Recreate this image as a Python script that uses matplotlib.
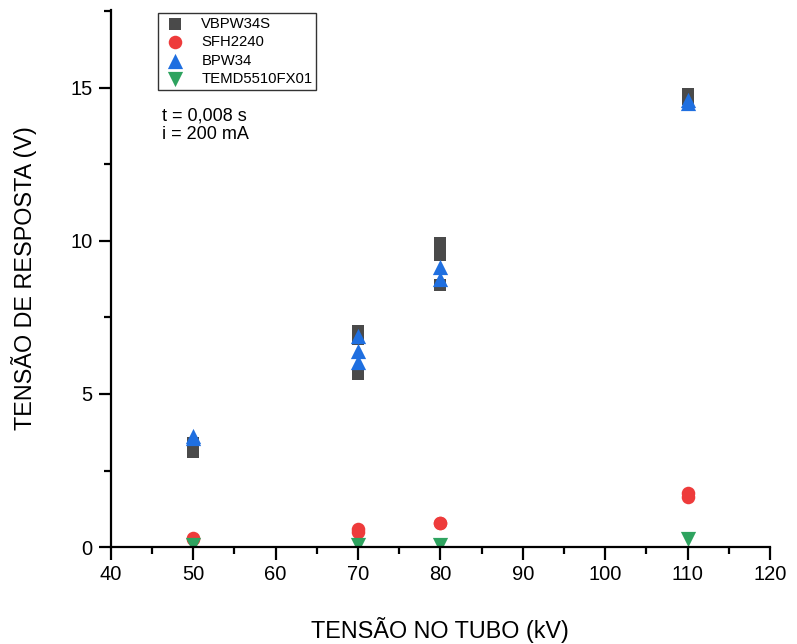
import matplotlib
matplotlib.use("Agg")
import matplotlib.pyplot as plt
from matplotlib.ticker import MultipleLocator

plt.rcParams['font.family'] = ['Liberation Sans', 'DejaVu Sans']

# Data
vbpw34s_x = [50, 50, 70, 70, 70, 80, 80, 80, 110, 110]
vbpw34s_y = [3.1, 3.4, 7.05, 6.8, 5.65, 9.93, 9.55, 8.57, 14.8, 14.65]

sfh2240_x = [50, 50, 70, 70, 80, 80, 110, 110]
sfh2240_y = [0.3, 0.25, 0.6, 0.5, 0.8, 0.78, 1.75, 1.62]

bpw34_x = [50, 50, 70, 70, 70, 80, 80, 110, 110]
bpw34_y = [3.55, 3.62, 6.9, 6.4, 6.05, 9.15, 8.75, 14.5, 14.6]

temd_x = [50, 70, 80, 110]
temd_y = [0.05, 0.08, 0.05, 0.25]

x_ticks = [40, 50, 60, 70, 80, 90, 100, 110, 120]
y_ticks = [0, 5, 10, 15]

fig = plt.figure(figsize=(7.97, 6.44), dpi=100)
ax = fig.add_axes([0.139, 0.1506, 0.827, 0.834])

ax.scatter(vbpw34s_x, vbpw34s_y, marker='s', s=75, color='#4a4a4a', label='VBPW34S', zorder=3, linewidths=0)
ax.scatter(sfh2240_x, sfh2240_y, marker='o', s=95, color='#ee3b3b', label='SFH2240', zorder=3, linewidths=0)
ax.scatter(bpw34_x, bpw34_y, marker='^', s=120, color='#1f6fe0', label='BPW34', zorder=4, linewidths=0)
ax.scatter(temd_x, temd_y, marker='v', s=120, color='#2ea35f', label='TEMD5510FX01', zorder=3, linewidths=0)

ax.set_xlim(40, 120)
ax.set_ylim(0, 17.55)
ax.set_xticks(x_ticks)
ax.set_yticks(y_ticks)
ax.xaxis.set_minor_locator(MultipleLocator(5))
ax.yaxis.set_minor_locator(MultipleLocator(2.5))
ax.tick_params(axis='both', which='major', labelsize=14.5, length=9, width=1.6, direction='out', pad=4)
ax.tick_params(axis='both', which='minor', length=5, width=1.6, direction='out')
ax.spines['top'].set_visible(False)
ax.spines['right'].set_visible(False)
ax.spines['left'].set_linewidth(1.6)
ax.spines['bottom'].set_linewidth(1.6)
for sp in ['left', 'bottom']:
    ax.spines[sp].set_zorder(5)

ax.set_xlabel('TENSÃO NO TUBO (kV)', fontsize=16.8, labelpad=24)
ax.set_ylabel('TENSÃO DE RESPOSTA (V)', fontsize=16.8, labelpad=24)

leg = ax.legend(loc='upper left', bbox_to_anchor=(0.071, 0.994), fontsize=10.7,
                frameon=True, fancybox=False, edgecolor='#333333', framealpha=1,
                handletextpad=0.9, borderpad=0.25, labelspacing=0.3, handlelength=1.8,
                borderaxespad=0)
leg.get_frame().set_linewidth(1.0)

ax.text(0.077, 0.819, 't = 0,008 s\ni = 200 mA', transform=ax.transAxes,
        fontsize=13, va='top', ha='left', linespacing=1.15)

fig.savefig('out.png', dpi=100)
